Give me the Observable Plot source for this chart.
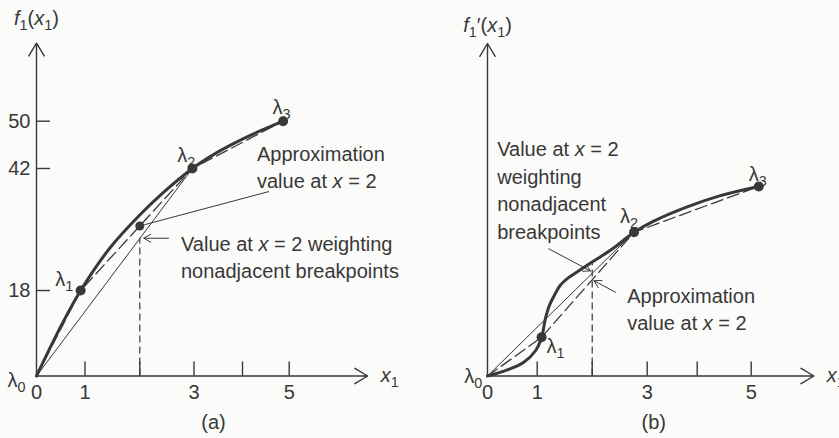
<!DOCTYPE html>
<html>
<head>
<meta charset="utf-8">
<script src="https://cdn.jsdelivr.net/npm/d3@7"></script>
<script src="https://cdn.jsdelivr.net/npm/@observablehq/plot@0.6"></script>
<style>
  body { margin: 0; background: #fbfbf9; }
  #fig { position: relative; width: 839px; height: 438px; overflow: hidden; background: #fbfbf9; }
  #fig svg { position: absolute; top: 0; }
</style>
</head>
<body>
<div id="fig"></div>
<script>
// ---- Panel (a): concave f1(x1) and its breakpoints λ0..λ3 ----
const aBreakX = [0, 0.91, 2.97, 4.87];
const aBreakY = [0, 18, 42, 50];
const aCurveX = [0, 0.454, 0.91, 1.465, 2.013, 2.437, 2.97, 3.402, 3.814, 4.236, 4.87];
const aCurveY = [0, 9.5, 18, 26.5, 33.0, 37.3, 42, 44.35, 46.2, 47.85, 50];
const aYTicks = [18, 42, 50];

// ---- Panel (b): S-shaped f1'(x1) and its breakpoints ----
const bBreakX = [0, 1.08, 2.76, 5.14];
const bBreakY = [0, 7.6, 28.2, 37.2];
const bCurveX = [0, 0.4, 0.73, 0.97, 1.08, 1.15, 1.22, 1.32, 1.42, 1.57, 1.75, 2.02, 2.39, 2.76, 3.13, 3.8, 4.43, 5.14];
const bCurveY = [0, 1.2, 2.7, 5.0, 7.6, 11.3, 13.8, 16.0, 17.8, 19.3, 20.6, 22.5, 25.1, 28.2, 30.4, 33.2, 35.4, 37.2];

// ---- Shared axis content ----
const xTicks = [1, 2, 3, 4, 5];
const xTickLabels = [0, 1, 3, 5];
const breakNames = ["λ_0", "λ_1", "λ_2", "λ_3"];
const xEval = 2;

const ink = "#383838";
const font = '"Liberation Sans", Arial, Helvetica, sans-serif';
const fontSize = 20;

const toPoints = (xs, ys, names) => xs.map((x, i) => ({x, y: ys[i], name: names ? names[i] : null}));
function interp(xs, ys, x) {
  for (let i = 1; i < xs.length; i++) {
    if (x <= xs[i]) return ys[i - 1] + (ys[i] - ys[i - 1]) * (x - xs[i - 1]) / (xs[i] - xs[i - 1]);
  }
  return ys[ys.length - 1];
}

// Turn "*x*" into italic and "_1" into a subscript inside every text element.
function richText(svg) {
  const NS = "http://www.w3.org/2000/svg";
  const sub = 5;
  d3.select(svg).selectAll("text").each(function () {
    const spans = this.querySelectorAll("tspan");
    const nodes = spans.length ? Array.from(spans) : [this];
    for (const node of nodes) {
      const s = node.textContent;
      if (!/[_*]/.test(s)) continue;
      node.textContent = "";
      let shift = 0;
      for (const p of s.match(/\*[^*]+\*|_.|[^*_]+/g)) {
        const t = document.createElementNS(NS, "tspan");
        let target = 0;
        if (p[0] === "*") { t.textContent = p.slice(1, -1); t.setAttribute("font-style", "italic"); }
        else if (p[0] === "_") { t.textContent = p.slice(1); t.setAttribute("font-size", "0.72em"); target = sub; }
        else t.textContent = p;
        if (target !== shift) { t.setAttribute("dy", target - shift); shift = target; }
        node.appendChild(t);
      }
    }
  });
  return svg;
}

function panel({width, marginLeft, xRange, yScale, breaks, curve, yTicks, yLabel, xEnd, yEnd,
                vTop, marked, labels, notes, arrows, caption, captionDx}) {
  const height = 438, marginTop = 30, marginBottom = 62.5, tickLen = 14;
  const frameH = height - marginTop - marginBottom;
  const frameW = width - marginLeft;
  const axes = [{x1: 0, y1: 0, x2: xEnd, y2: 0}, {x1: 0, y1: 0, x2: 0, y2: yEnd}];
  const marks = [
    // axes with open arrowheads
    Plot.arrow(axes, {x1: "x1", y1: "y1", x2: "x2", y2: "y2", stroke: ink, strokeWidth: 1.4, headLength: 16, headAngle: 62}),
    Plot.tickX(xTicks, {x: d => d, insetTop: frameH - tickLen, stroke: ink, strokeWidth: 1.4}),
    Plot.text(xTickLabels, {x: d => d, y: () => 0, text: d => String(d), dy: 17, fontSize, fill: ink}),
    Plot.text([yLabel.text], {x: () => 0, y: () => yLabel.y, text: d => d, fontSize, fill: ink}),
    Plot.text(["*x*_1"], {x: () => xEnd, y: () => 0, text: d => d, textAnchor: "start", dx: 13, fontSize, fill: ink}),
    // dashed drop line at x = 2
    Plot.ruleX([xEval], {x: d => d, y1: () => 0, y2: () => vTop, stroke: ink, strokeWidth: 1.2, strokeDasharray: "7,4"}),
    // chord joining the nonadjacent breakpoints λ0 and λ2
    Plot.line([breaks[0], breaks[2]], {x: "x", y: "y", stroke: ink, strokeWidth: 1}),
    // piecewise-linear approximation through adjacent breakpoints
    Plot.line(breaks, {x: "x", y: "y", stroke: ink, strokeWidth: 1.3, strokeDasharray: "12,5"}),
    // the function itself
    Plot.line(curve, {x: "x", y: "y", curve: "catmull-rom", stroke: ink, strokeWidth: 3}),
    Plot.dot(breaks.slice(1), {x: "x", y: "y", r: 5, fill: ink}),
    Plot.dot(marked, {x: "x", y: "y", r: 4.5, fill: ink}),
    ...labels.map(([i, dx, dy, anchor]) =>
      Plot.text([breaks[i]], {x: "x", y: "y", text: "name", dx, dy, textAnchor: anchor, fontSize, fill: ink})),
    ...notes.map(n => Plot.text([n], {x: "x", y: "y", text: "text", textAnchor: "start", lineHeight: 1.375, fontSize, fill: ink})),
    ...arrows.map(a => Plot.arrow([a], {x1: "x1", y1: "y1", x2: "x2", y2: "y2", insetEnd: a.inset, headLength: a.head, headAngle: 60, stroke: ink, strokeWidth: 1})),
    Plot.text([caption], {frameAnchor: "bottom", text: d => d, dx: captionDx, dy: 52.5, fontSize, fill: ink})
  ];
  if (yTicks) {
    marks.push(
      Plot.tickY(yTicks, {y: d => d, insetRight: frameW - tickLen, stroke: ink, strokeWidth: 1.4}),
      Plot.text(yTicks, {x: () => 0, y: d => d, text: d => String(d), textAnchor: "end", dx: -6, fontSize, fill: ink})
    );
  }
  const svg = Plot.plot({
    width, height, marginLeft, marginRight: 0, marginTop, marginBottom,
    x: {type: "linear", domain: [0, 1, 2, 3, 4, 5], range: xRange, axis: null},
    y: {type: "linear", ...yScale, axis: null},
    style: {background: "transparent", fontFamily: font, fontSize: fontSize + "px", color: ink, overflow: "visible"},
    marks
  });
  return richText(svg);
}

// ---------- panel (a) ----------
const aBreaks = toPoints(aBreakX, aBreakY, breakNames);
const aApprox = interp(aBreakX, aBreakY, xEval);          // on the adjacent segment λ1–λ2
const aChord = aBreakY[2] * xEval / aBreakX[2];           // on the chord λ0–λ2
const svgA = panel({
  width: 420, marginLeft: 36,
  xRange: [36, 84.5, 139.3, 193.5, 242, 288.7],
  yScale: {domain: [0, 18, 42, 50], range: [375.5, 290, 168, 120.7]},
  breaks: aBreaks,
  curve: toPoints(aCurveX, aCurveY),
  yTicks: aYTicks,
  yLabel: {text: "*f*_1(*x*_1)", y: 67.3},
  xEnd: 6.68, yEnd: 63.2,
  vTop: aChord,
  marked: [{x: xEval, y: aApprox}],
  labels: [[0, -11, 4.5, "end"], [1, -7.3, -11, "end"], [2, -6, -12.5, "middle"], [3, -1.7, -13.7, "middle"]],
  notes: [
    {x: 4.31, y: 42.5, text: "Approximation\nvalue at *x* = 2"},
    {x: 2.76, y: 24.85, text: "Value at *x* = 2 weighting\nnonadjacent breakpoints"}
  ],
  arrows: [
    {x1: 4.56, y1: 37.45, x2: xEval, y2: aApprox, inset: 5, head: 0},
    {x1: 2.53, y1: aChord, x2: xEval, y2: aChord, inset: 4, head: 12}
  ],
  caption: "(a)", captionDx: -15
});
svgA.style.left = "0px";

// ---------- panel (b) ----------
const bBreaks = toPoints(bBreakX, bBreakY, breakNames);
const bApprox = interp(bBreakX, bBreakY, xEval);
const bChord = bBreakY[2] * xEval / bBreakX[2];
const bCurveAt = interp(bCurveX, bCurveY, xEval);
const svgB = panel({
  width: 419, marginLeft: 67,
  xRange: [67, 116.7, 171.7, 226.7, 276.7, 330.7],
  yScale: {domain: [0, 50], range: [375.5, 120.7]},
  breaks: bBreaks,
  curve: toPoints(bCurveX, bCurveY),
  yTicks: null,
  yLabel: {text: "*f*_1′(*x*_1)", y: 68.8},
  xEnd: 6.16, yEnd: 65.25,
  vTop: bCurveAt,
  marked: [],
  labels: [[0, -5.3, 0.5, "end"], [1, 5, 9, "start"], [2, -5, -16, "middle"], [3, -1, -12, "middle"]],
  notes: [
    {x: 0.195, y: 36.8, text: "Value at *x* = 2\nweighting\nnonadjacent\nbreakpoints"},
    {x: 2.636, y: 13.36, text: "Approximation\nvalue at *x* = 2"}
  ],
  arrows: [
    {x1: 1.21, y1: 24.96, x2: xEval, y2: bChord, inset: 2, head: 12},
    {x1: 2.424, y1: 16.44, x2: xEval, y2: bApprox, inset: 2, head: 12}
  ],
  caption: "(b)", captionDx: -9.7
});
svgB.style.left = "420px";

document.getElementById("fig").append(svgA, svgB);
</script>
</body>
</html>
